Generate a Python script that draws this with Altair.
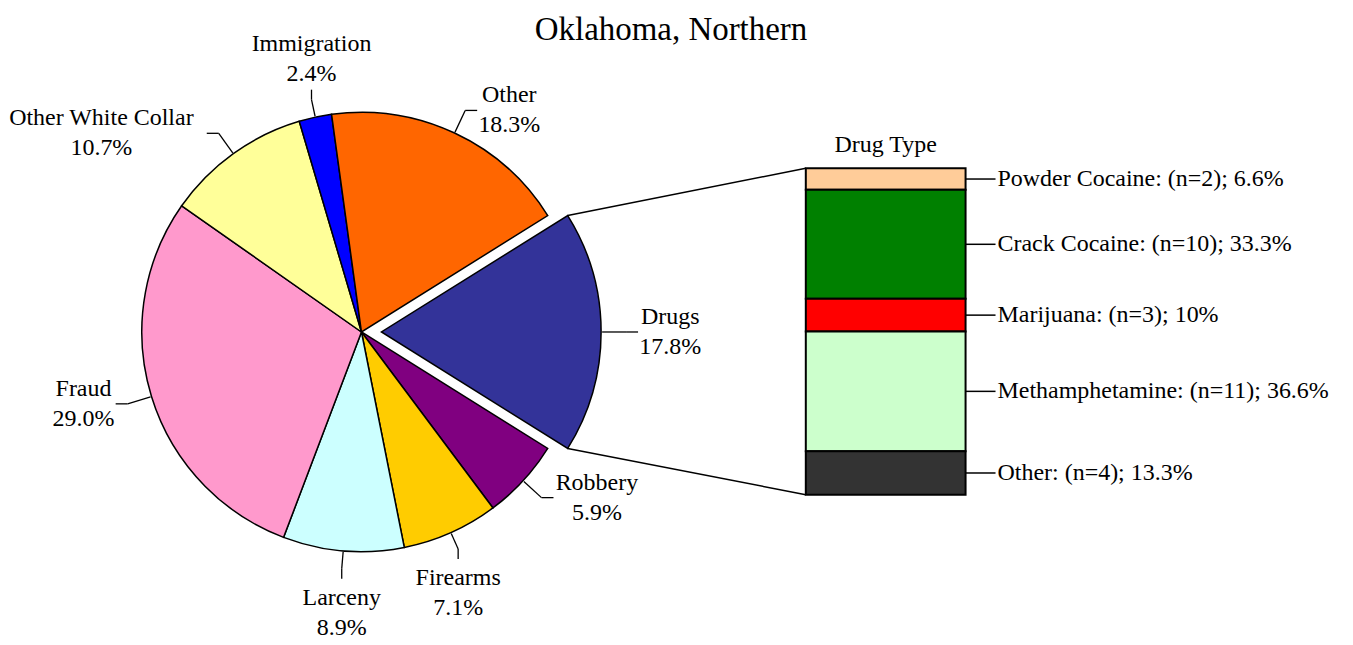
import math
import altair as alt
import pandas as pd

# ---------------- data ----------------
title_text = ["Oklahoma, Northern"]
drug_title = ["Drug Type"]

crime_types = ["Drugs", "Robbery", "Firearms", "Larceny", "Fraud",
               "Other White Collar", "Immigration", "Other"]
crime_pct = [17.8, 5.9, 7.1, 8.9, 29.0, 10.7, 2.4, 18.3]
crime_colors = ["#333399", "#800080", "#FFCC00", "#CCFFFF", "#FF99CC",
                "#FFFF99", "#0000FF", "#FF6600"]

drug_types = ["Powder Cocaine", "Crack Cocaine", "Marijuana", "Methamphetamine", "Other"]
drug_n = [2, 10, 3, 11, 4]
drug_pct = [6.6, 33.3, 10, 36.6, 13.3]
drug_colors = ["#FFCC99", "#008000", "#FF0000", "#CCFFCC", "#333333"]

# ---------------- layout constants ----------------
W, H = 1337, 629
CX, CY, R = 352, 324, 220
EXPLODE = 20
R1 = R + 1
R2_SIDE, R2_VERT = 245, 238
LEAD_SIDE, LEAD_VERT = 12, 10
FONT = "Liberation Serif"
FS = 24
LH = 30
BAR_L, BAR_R, BAR_T, BAR_B = 797, 957, 160, 487

total = sum(crime_pct)
a0 = math.pi / 2 - math.pi * crime_pct[0] / total  # Drugs centred at 3 o'clock
dtotal = sum(drug_pct)

XS = alt.Scale(domain=[0, W], range=[0, W], nice=False, zero=False)
YS = alt.Scale(domain=[0, H], range=[0, H], nice=False, zero=False)
DYS = alt.Scale(domain=[0, dtotal], range=[BAR_T, BAR_B], nice=False, zero=False)

pie_df = pd.DataFrame({
    "cat": crime_types,
    "value": crime_pct,
    "order": list(range(len(crime_types))),
    "label": [f"{c}\n{v:.1f}%" for c, v in zip(crime_types, crime_pct)],
})

drug_df = pd.DataFrame({
    "name": drug_types,
    "n": drug_n,
    "pct": drug_pct,
    "order": list(range(len(drug_types))),
})

# first-line y of a two-line label (Vega places line 1 at y, line 2 below it)
pie_base = alt.Chart(pie_df).transform_window(
    cum="sum(value)", sort=[alt.SortField("order")], frame=[None, 0]
).transform_calculate(
    start="datum.cum - datum.value",
    phi=f"{a0} + 2*PI*(datum.cum - datum.value/2)/{total}",
    ts=f"{a0} + 2*PI*(datum.cum - datum.value)/{total}",
    te=f"{a0} + 2*PI*datum.cum/{total}",
    ex=f"datum.cat == 'Drugs' ? {EXPLODE} : 0",
    cx=f"{CX} + datum.ex*sin(datum.phi)",
    cy=f"{CY} - datum.ex*cos(datum.phi)",
    side="abs(sin(datum.phi)) > 0.415",
    sx="sin(datum.phi) >= 0 ? 1 : -1",
    sy="cos(datum.phi) >= 0 ? 1 : -1",
    r2=f"datum.side ? {R2_SIDE} : {R2_VERT}",
    p1x=f"datum.cx + {R1}*sin(datum.phi)",
    p1y=f"datum.cy - {R1}*cos(datum.phi)",
    p2x="datum.cx + datum.r2*sin(datum.phi)",
    p2y="datum.cy - datum.r2*cos(datum.phi)",
    p3x=f"datum.side ? datum.p2x + datum.sx*{LEAD_SIDE} : datum.p2x",
    p3y=f"datum.side ? datum.p2y : datum.p2y - datum.sy*{LEAD_VERT}",
    tw=f"max(length(datum.cat), length(format(datum.value, '.1f')) + 1) * {FS} * 0.47",
    tx="datum.side ? datum.p3x + datum.sx*(4 + datum.tw/2) : datum.p3x",
    ty=(f"datum.side ? datum.p3y - {LH}/2 : "
        f"(datum.sy > 0 ? datum.p3y - 1 - 1.5*{LH} : datum.p3y + 4 + {LH}/2)"),
)

arcs = pie_base.mark_arc(outerRadius=R, stroke="black", strokeWidth=1.5).encode(
    theta=alt.Theta("start:Q", scale=alt.Scale(domain=[0, total], range=[a0, a0 + 2 * math.pi])),
    theta2="cum:Q",
    x=alt.X("cx:Q", scale=XS, axis=None),
    y=alt.Y("cy:Q", scale=YS, axis=None),
    color=alt.Color("cat:N", scale=alt.Scale(domain=crime_types, range=crime_colors), legend=None),
)

lead1 = pie_base.mark_rule(color="black", strokeWidth=1.3).encode(
    x=alt.X("p1x:Q", scale=XS, axis=None), y=alt.Y("p1y:Q", scale=YS, axis=None),
    x2="p2x:Q", y2="p2y:Q",
)
lead2 = pie_base.mark_rule(color="black", strokeWidth=1.3).encode(
    x=alt.X("p2x:Q", scale=XS, axis=None), y=alt.Y("p2y:Q", scale=YS, axis=None),
    x2="p3x:Q", y2="p3y:Q",
)
pie_text = pie_base.mark_text(font=FONT, fontSize=FS, lineBreak="\n", lineHeight=LH,
                              align="center", baseline="middle", color="black").encode(
    x=alt.X("tx:Q", scale=XS, axis=None), y=alt.Y("ty:Q", scale=YS, axis=None),
    text="label:N",
)

drugs_only = pie_base.transform_filter("datum.cat == 'Drugs'").transform_calculate(
    c1x=f"datum.cx + {R}*sin(datum.ts)", c1y=f"datum.cy - {R}*cos(datum.ts)",
    c2x=f"datum.cx + {R}*sin(datum.te)", c2y=f"datum.cy - {R}*cos(datum.te)",
)
conn1 = drugs_only.mark_rule(color="black", strokeWidth=1.5).encode(
    x=alt.X("c1x:Q", scale=XS, axis=None), y=alt.Y("c1y:Q", scale=YS, axis=None),
    x2=alt.value(BAR_L), y2=alt.value(BAR_T),
)
conn2 = drugs_only.mark_rule(color="black", strokeWidth=1.5).encode(
    x=alt.X("c2x:Q", scale=XS, axis=None), y=alt.Y("c2y:Q", scale=YS, axis=None),
    x2=alt.value(BAR_L), y2=alt.value(BAR_B),
)

drug_base = alt.Chart(drug_df).transform_window(
    cum="sum(pct)", sort=[alt.SortField("order")], frame=[None, 0]
).transform_calculate(
    start="datum.cum - datum.pct",
    mid="datum.cum - datum.pct/2",
    lbl="datum.name + ': (n=' + datum.n + '); ' + datum.pct + '%'",
)

bars = drug_base.mark_rect(stroke="black", strokeWidth=2).encode(
    x=alt.value(BAR_L), x2=alt.value(BAR_R),
    y=alt.Y("start:Q", scale=DYS, axis=None), y2="cum:Q",
    color=alt.Color("name:N", scale=alt.Scale(domain=drug_types, range=drug_colors), legend=None),
)
ticks = drug_base.mark_rule(color="black", strokeWidth=1.5).encode(
    x=alt.value(BAR_R), x2=alt.value(BAR_R + 30),
    y=alt.Y("mid:Q", scale=DYS, axis=None),
)
drug_text = drug_base.mark_text(font=FONT, fontSize=FS, align="left", baseline="middle",
                                color="black").encode(
    x=alt.value(BAR_R + 32),
    y=alt.Y("mid:Q", scale=DYS, axis=None),
    text="lbl:N",
)

title = alt.Chart(pd.DataFrame({"t": title_text})).mark_text(
    font=FONT, fontSize=33, align="center", baseline="middle", color="black"
).encode(x=alt.value(662), y=alt.value(22), text="t:N")

dtitle = alt.Chart(pd.DataFrame({"t": drug_title})).mark_text(
    font=FONT, fontSize=FS, align="center", baseline="middle", color="black"
).encode(x=alt.value((BAR_L + BAR_R) / 2), y=alt.value(137), text="t:N")

chart = alt.layer(
    conn1, conn2, arcs, lead1, lead2, pie_text, bars, ticks, drug_text, title, dtitle
).resolve_scale(y="independent", color="independent").properties(
    width=W, height=H, padding=0, background="white"
).configure_view(stroke=None)

chart.save("out.html", embed_options={"renderer": "svg", "actions": False})
